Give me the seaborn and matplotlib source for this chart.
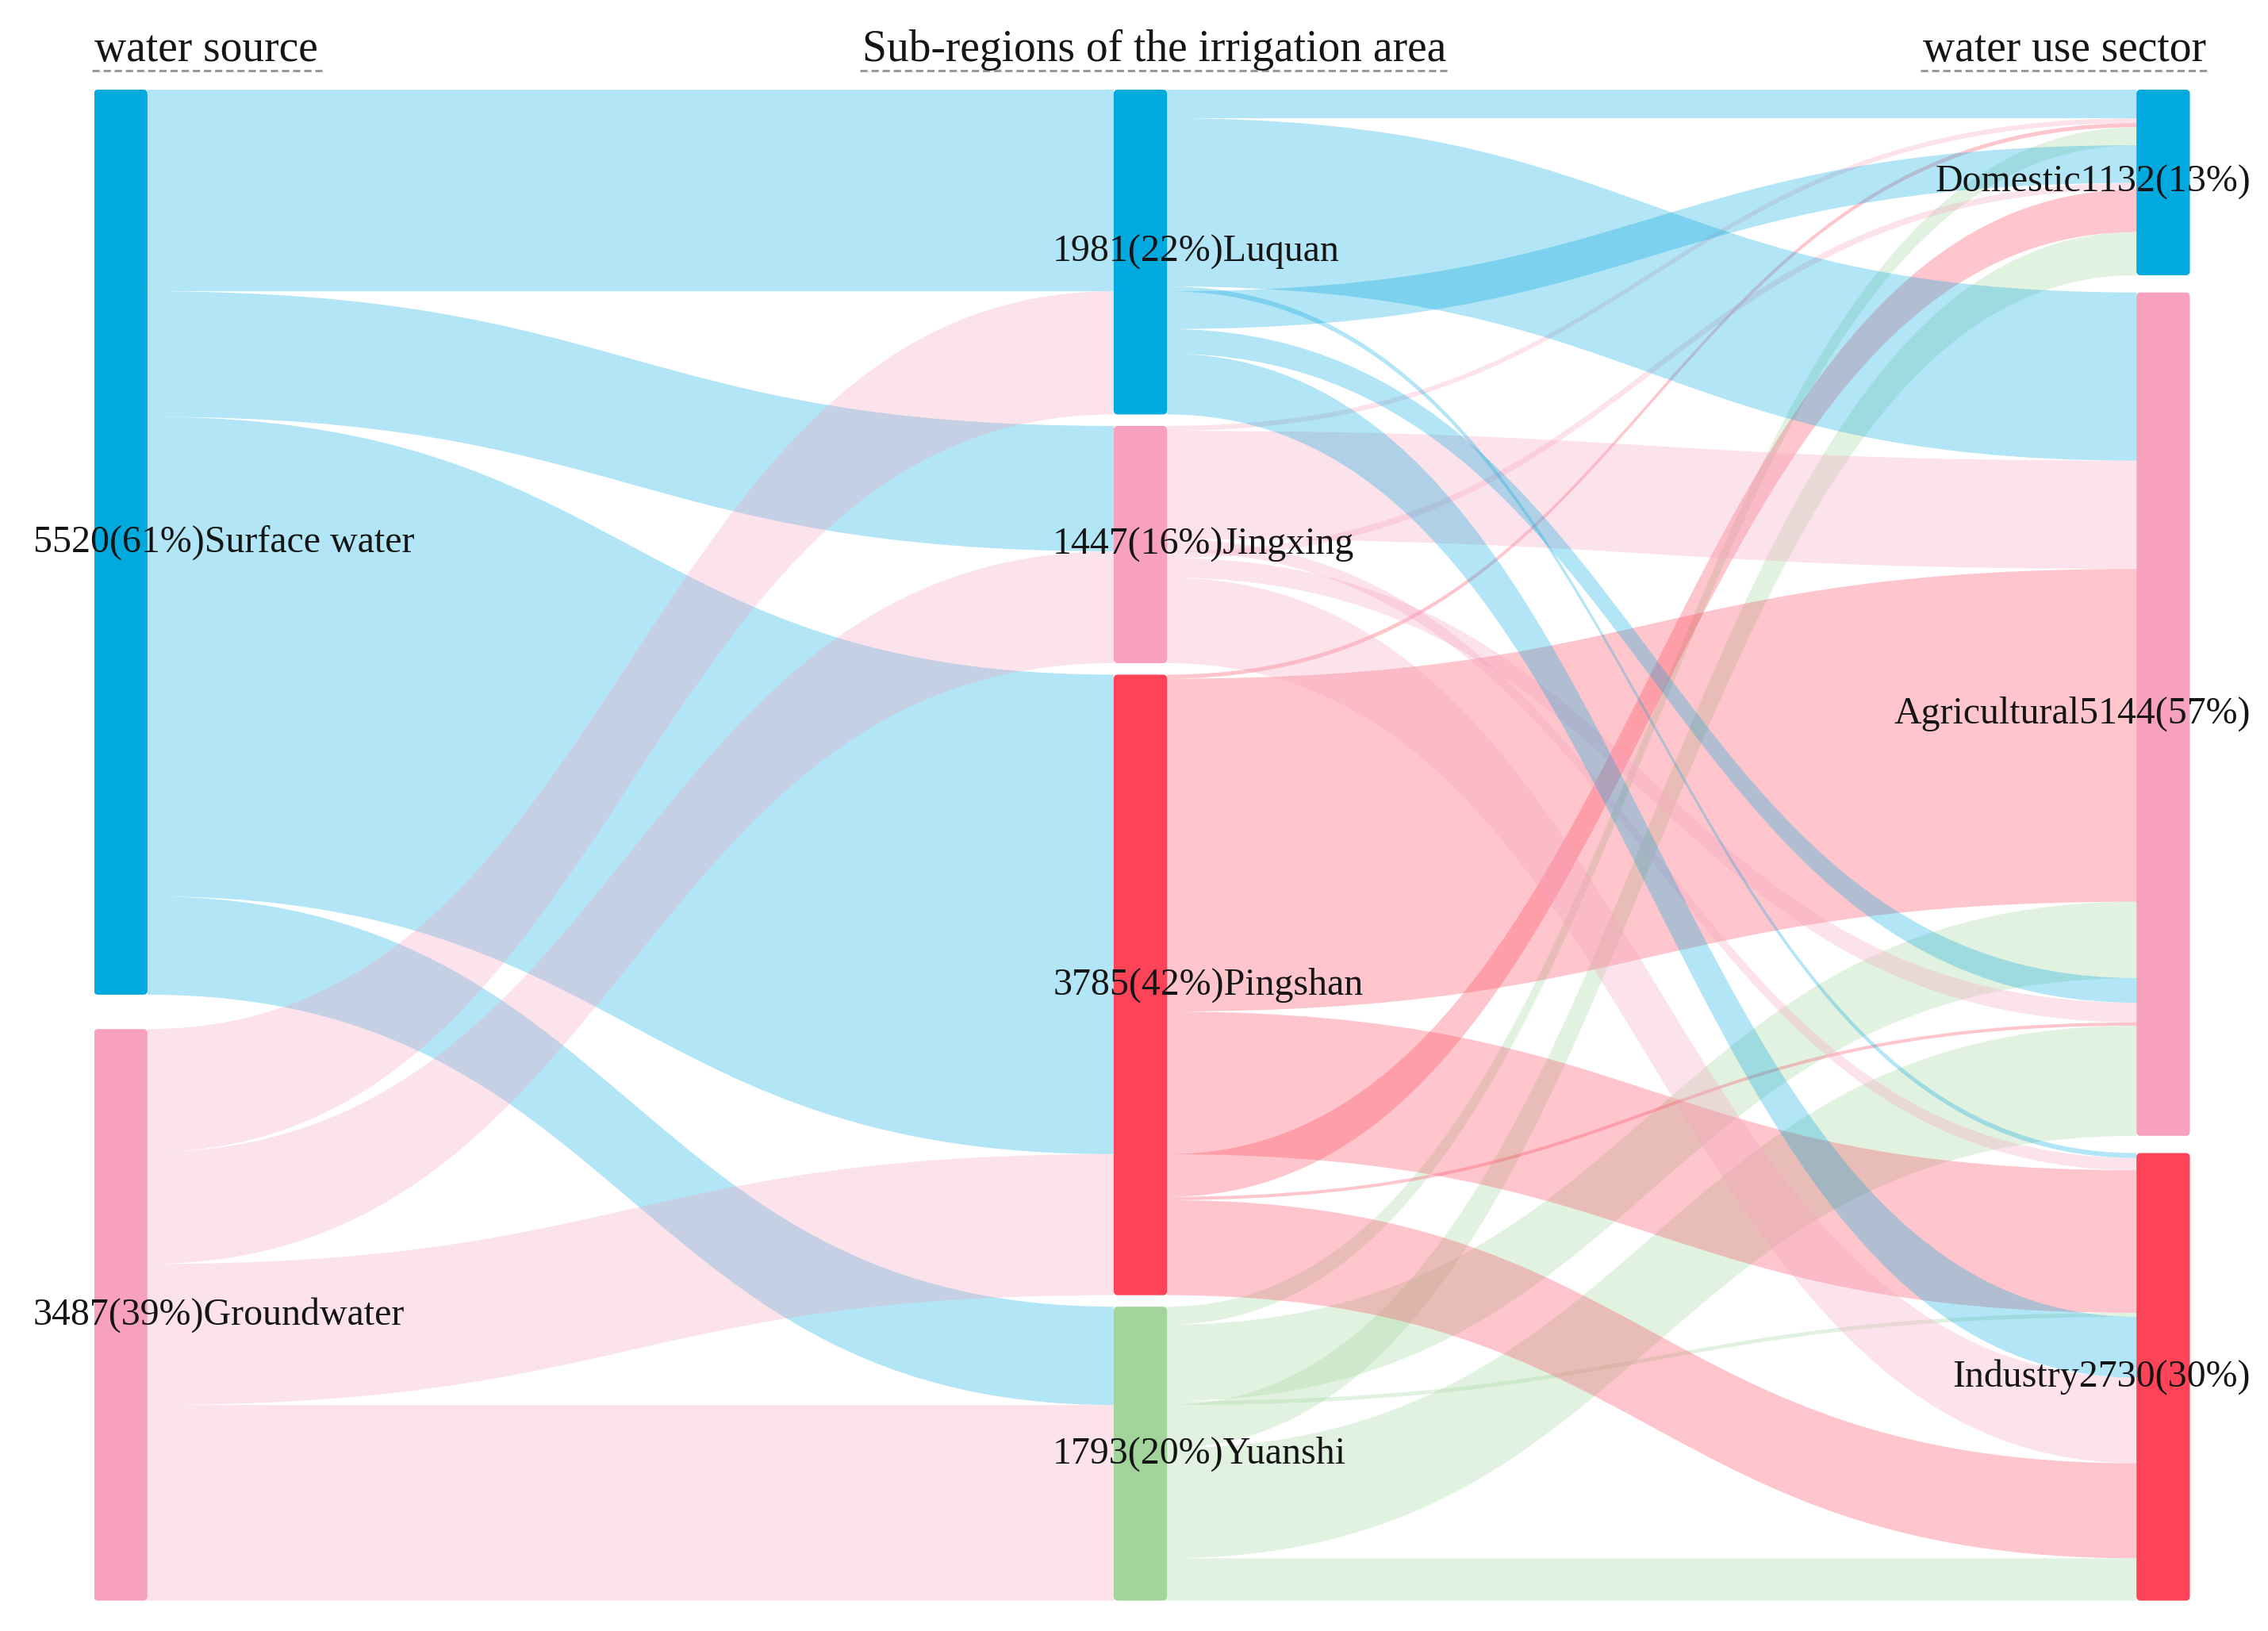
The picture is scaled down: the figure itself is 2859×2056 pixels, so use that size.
import matplotlib.pyplot as plt
import numpy as np
import seaborn as sns
from matplotlib.lines import Line2D
from matplotlib.patches import FancyBboxPatch, PathPatch
from matplotlib.path import Path

sources = ["Surface water", "Groundwater"]
regions = ["Luquan", "Jingxing", "Pingshan", "Yuanshi"]
sectors = ["Domestic", "Agricultural", "Industry"]

# water used in each sub-region by sector (Domestic, Agricultural, Industry)
surface_use = [
    [174, 1026, 30],
    [30, 660, 75],
    [25, 2030, 870],
    [110, 466, 24],
]
ground_use = [
    [230, 150, 371],
    [40, 120, 522],
    [260, 20, 580],
    [263, 672, 258],
]

# totals as printed on the node labels
source_totals = [5520, 3487]
region_totals = [1981, 1447, 3785, 1793]
sector_totals = [1132, 5144, 2730]
grand_total = 9007

column_titles = ["water source", "Sub-regions of the irrigation area", "water use sector"]

source_colors = ["#00A9DE", "#F7A1BF"]
region_colors = ["#00A9DE", "#F7A1BF", "#FC4358", "#A2D49C"]
sector_colors = ["#00A9DE", "#F7A1BF", "#FC4358"]

sns.set_theme(style="white")
plt.rcParams["font.family"] = ["Liberation Serif", "DejaVu Serif"]

use = np.array([surface_use, ground_use], dtype=float)  # source x region x sector
src_vals = use.sum(axis=(1, 2))
reg_vals = use.sum(axis=(0, 2))
sec_vals = use.sum(axis=(0, 1))

gap_mid = 70
span = use.sum() + gap_mid * 3


def column_tops(values):
    gap = (span - sum(values)) / (len(values) - 1)
    tops = []
    y = 0.0
    for v in values:
        tops.append(y)
        y += v + gap
    return tops


src_top = column_tops(src_vals)
reg_top = column_tops(reg_vals)
sec_top = column_tops(sec_vals)

col_x = [0.0, 0.4865, 0.9745]
node_w = 0.0255
label_off = 0.029
alpha = 0.3

fig = plt.figure(figsize=(28.59, 20.56), dpi=100)
ax = fig.add_axes([65 / 1568, 1 - 1107 / 1128, 1449 / 1568, 1045 / 1128])
ax.set_xlim(0, 1)
ax.set_ylim(span, 0)
ax.axis("off")


def band(x0, x1, y0, y1, w, color):
    xm = (x0 + x1) / 2
    verts = [
        (x0, y0), (xm, y0), (xm, y1), (x1, y1),
        (x1, y1 + w), (xm, y1 + w), (xm, y0 + w), (x0, y0 + w),
        (x0, y0),
    ]
    codes = [Path.MOVETO, Path.CURVE4, Path.CURVE4, Path.CURVE4,
             Path.LINETO, Path.CURVE4, Path.CURVE4, Path.CURVE4,
             Path.CLOSEPOLY]
    ax.add_patch(PathPatch(Path(verts, codes), facecolor=color, edgecolor="none",
                           alpha=alpha, zorder=1))


# source -> region links
src_cursor = list(src_top)
reg_in = list(reg_top)
for s in range(len(sources)):
    for r in range(len(regions)):
        v = use[s, r].sum()
        band(col_x[0] + node_w, col_x[1], src_cursor[s], reg_in[r], v, source_colors[s])
        src_cursor[s] += v
        reg_in[r] += v

# region -> sector links, split by water source
reg_out = list(reg_top)
out_pos = np.zeros_like(use)
for r in range(len(regions)):
    for s in range(len(sources)):
        for c in range(len(sectors)):
            out_pos[s, r, c] = reg_out[r]
            reg_out[r] += use[s, r, c]
sec_in = list(sec_top)
for c in range(len(sectors)):
    for s in range(len(sources)):
        for r in range(len(regions)):
            v = use[s, r, c]
            band(col_x[1] + node_w, col_x[2], out_pos[s, r, c], sec_in[c], v, region_colors[r])
            sec_in[c] += v

text_kw = dict(fontsize=34.5, color="#151515", va="center", zorder=4, clip_on=False)

# small corner rounding, y units are much larger than x units
round_x = 0.002
round_aspect = (span / 1045) / (1 / 1449)


def draw_nodes(ci, tops, vals, colors, names, totals, right=False):
    for top, v, col, name, tot in zip(tops, vals, colors, names, totals):
        ax.add_patch(FancyBboxPatch((col_x[ci], top), node_w, v,
                                    boxstyle=f"round,pad=0,rounding_size={round_x}",
                                    mutation_aspect=round_aspect,
                                    facecolor=col, edgecolor="none", zorder=3))
        pct = round(tot / grand_total * 100)
        yc = top + v / 2
        if right:
            ax.text(col_x[ci] + node_w + label_off, yc, f"{name}{tot}({pct}%)",
                    ha="right", **text_kw)
        else:
            ax.text(col_x[ci] - label_off, yc, f"{tot}({pct}%){name}",
                    ha="left", **text_kw)


draw_nodes(0, src_top, src_vals, source_colors, sources, source_totals)
draw_nodes(1, reg_top, reg_vals, region_colors, regions, region_totals)
draw_nodes(2, sec_top, sec_vals, sector_colors, sectors, sector_totals, right=True)

# column titles with dashed underline
title_x = [65 / 1568, 798 / 1568, 1525 / 1568]
title_ha = ["left", "center", "right"]
titles = []
for t, x, ha in zip(column_titles, title_x, title_ha):
    titles.append(fig.text(x, 1 - 42 / 1128, t, ha=ha, va="baseline",
                           fontsize=40, color="#151515"))
fig.canvas.draw()
renderer = fig.canvas.get_renderer()
fw, fh = fig.bbox.width, fig.bbox.height
for t in titles:
    bb = t.get_window_extent(renderer)
    yl = 1 - 49 / 1128
    fig.add_artist(Line2D([bb.x0 / fw - 0.001, bb.x1 / fw + 0.002], [yl, yl],
                          transform=fig.transFigure, color="#9a9a9a",
                          linewidth=2.2, linestyle=(0, (3, 1.6))))

fig.savefig("out.png", dpi=100, facecolor="white")
